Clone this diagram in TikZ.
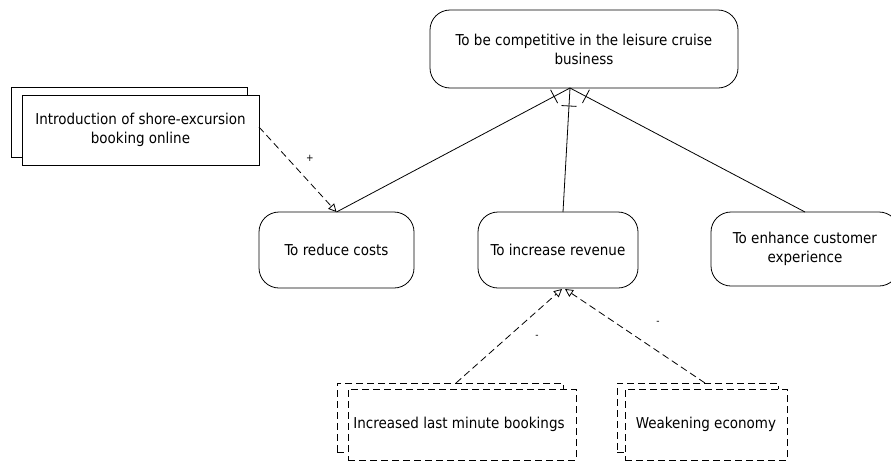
\documentclass[tikz,border=0pt]{standalone}
\usepackage{fontspec}
\setmainfont{DejaVu Sans Condensed}
\usetikzlibrary{arrows.meta,calc}
\begin{document}
\begin{tikzpicture}[x=1pt,y=-1pt,
  every node/.style={inner sep=0pt, outer sep=0pt},
  txt/.style={font=\fontsize{15}{19}\selectfont, align=center},
  goal/.style={txt, draw, line width=0.8pt, rounded corners=20pt, fill=white},
  task/.style={txt, draw, line width=0.8pt, fill=white},
  shadowbox/.style={draw, line width=0.8pt, fill=white},
  dashbox/.style={dash pattern=on 7pt off 4pt},
  link/.style={line width=0.8pt},
  contrib/.style={line width=0.8pt, dash pattern=on 7pt off 4pt, -{Triangle[open,length=8pt,width=8pt]}},
  sign/.style={font=\fontsize{10}{10}\selectfont}
]
\useasboundingbox (0,0) rectangle (891,461);
% goals
\node[goal, minimum width=308pt, minimum height=78pt] (top) at (584,49) {To be competitive in the leisure cruise\\business};
\node[goal, minimum width=155pt, minimum height=76pt] (rc) at (336.5,250) {To reduce costs};
\node[goal, minimum width=160pt, minimum height=76pt] (rv) at (558,250) {To increase revenue};
\node[goal, minimum width=188pt, minimum height=74pt] (en) at (805,249) {To enhance customer\\experience};
% tasks
\node[shadowbox, minimum width=236pt, minimum height=70pt] (introb) at (129,122) {};
\node[task, minimum width=237pt, minimum height=70pt] (intro) at (140.5,130) {Introduction of shore-excursion\\booking online};
\node[shadowbox, dashbox, minimum width=226pt, minimum height=69pt] (incb) at (450,417.5) {};
\node[task, dashbox, minimum width=228pt, minimum height=71pt] (inc) at (462,424.5) {Increased last minute bookings\hspace*{6pt}};
\node[shadowbox, dashbox, minimum width=161pt, minimum height=69pt] (weab) at (697.5,417.5) {};
\node[task, dashbox, minimum width=162pt, minimum height=71pt] (wea) at (706,424.5) {Weakening economy};
% decomposition links
\coordinate (apex) at (570,88);
\coordinate (rvtop) at ($(rv.north)+(5,0)$);
\draw[link] (apex) -- (rc.north);
\draw[link] (apex) -- (rvtop);
\draw[link] (apex) -- (en.north);
\foreach \t in {rc.north, rvtop, en.north} {
  \coordinate (m) at ($(apex)!18pt!(\t)$);
  \draw[link] ($(m)!7.5pt!90:(\t)$) -- ($(m)!7.5pt!-90:(\t)$);
}
% contributions
\coordinate (intoe) at ($(intro.east)+(0,-3)$);
\draw[contrib] (intoe) -- (rc.north);
\coordinate (incs) at ($(incb.north)+(6,0)$);
\coordinate (weas) at ($(weab.north)+(7.5,0)$);
\coordinate (rvb1) at ($(rv.south)+(4,1)$);
\coordinate (rvb2) at ($(rv.south)+(7,1)$);
\draw[contrib] (incs) -- (rvb1);
\draw[contrib] (weas) -- (rvb2);
\node[sign] (p1) at (310,158) {+};
\node[sign] (m1) at (537,337) {-};
\node[sign] (m2) at (658,323) {-};
\end{tikzpicture}
\end{document}
